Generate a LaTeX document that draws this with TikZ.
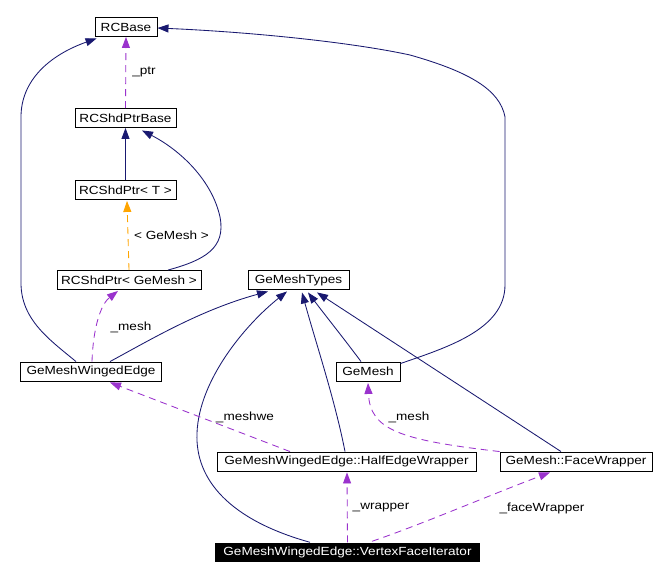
\documentclass[tikz,border=0pt]{standalone}
\usepackage{fontspec}
\setmainfont{Liberation Sans}[FakeStretch=1.15]
\usetikzlibrary{arrows.meta,calc}
\definecolor{navy}{RGB}{25,25,112}
\definecolor{purp}{RGB}{154,50,205}
\definecolor{orng}{RGB}{255,165,0}
\begin{document}
\begin{tikzpicture}[x=1pt,y=-1pt,font=\fontsize{11.8}{14}\selectfont,
  cls/.style={draw=black,line width=0.9pt,fill=white,minimum height=19pt,inner sep=0pt},
  cur/.style={fill=black,text=white,minimum height=19pt,inner sep=0pt},
  tip/.style={-{Triangle[length=11pt,width=8pt]}},
  inh/.style={tip,draw=navy,line width=0.85pt},
  usage/.style={tip,draw=purp,line width=0.85pt,dash pattern=on 7pt off 5pt},
  tmpl/.style={tip,draw=orng,line width=0.85pt,dash pattern=on 7pt off 5pt},
  lbl/.style={inner sep=0pt}]
\useasboundingbox[fill=white] (0,0) rectangle (657,580);
% nodes
\node[cls,minimum width=62pt]  (rcbase)  at (126,27)     {RCBase};
\node[cls,minimum width=101pt] (ptrbase) at (125.5,118)  {RCShdPtrBase};
\node[cls,minimum width=101pt] (ptrT)    at (125.5,190)  {RCShdPtr< T >};
\node[cls,minimum width=144pt] (ptrG)    at (129,280)    {RCShdPtr< GeMesh >};
\node[cls,minimum width=101pt] (types)   at (298.5,280)  {GeMeshTypes};
\node[cls,minimum width=141pt] (gmwe)    at (91,371.5)   {GeMeshWingedEdge};
\node[cls,minimum width=64pt]  (gemesh)  at (368,371.5)  {GeMesh};
\node[cls,minimum width=259pt] (hew)     at (346.5,461.5){GeMeshWingedEdge::HalfEdgeWrapper};
\node[cls,minimum width=152pt] (fw)      at (576,461.5)  {GeMesh::FaceWrapper};
\node[cur,minimum width=265pt] (vfi)     at (347.5,552)  {GeMeshWingedEdge::VertexFaceIterator};
% edges
\draw[usage] (ptrbase.north) -- (rcbase.south);
\node[lbl] (lptr) at (144,72) {\_ptr};
\draw[inh] (ptrT.north) -- (ptrbase.south);
\draw[tmpl] (ptrG.north) -- ($(ptrT.south)+(1.5,1)$);
\node[lbl] (ltmpl) at (171.5,235) {< GeMesh >};
\draw[inh] ($(ptrG.north)+(39,0)$) .. controls (205,260) and (226,248) .. (220,217)
  .. controls (212,180) and (180,150) .. ($(ptrbase.south)+(16.5,2.5)$);
\draw[inh] ($(gmwe.north)+(-15,0)$) .. controls (50,340) and (21,320) .. (21,283)
  -- (21,117) .. controls (21,80) and (50,55) .. ($(rcbase.south west)+(2,1.5)$);
\draw[usage] ($(gmwe.north)+(1,0)$) .. controls (93,330) and (100,305) .. ($(ptrG.south)+(-11,1)$);
\node[lbl] (lmesh1) at (131,327) {\_mesh};
\draw[inh] ($(gmwe.north)+(19,0)$) .. controls (150,340) and (200,310) .. ($(types.south)+(-30.5,1.5)$);
\draw[inh] ($(vfi.north)+(-37.5,0)$) .. controls (230,520) and (195,480) .. (197,433)
  .. controls (199,380) and (245,325) .. ($(types.south)+(-11.5,1.5)$);
\draw[inh] ($(hew.north)+(-1.5,0)$) .. controls (335,400) and (315,340) .. ($(types.south)+(3.5,2.5)$);
\draw[inh] ($(gemesh.north)+(-7,0)$) .. controls (345,340) and (325,315) .. ($(types.south)+(9.5,2.5)$);
\draw[inh] ($(fw.north)+(-15,0)$) -- ($(types.south)+(18.5,2.5)$);
\draw[inh] ($(gemesh.north east)+(0,2)$) .. controls (445,348) and (505,330) .. (505,285)
  -- (505,117) .. controls (500,90) and (470,72) .. (410,55)
  .. controls (350,42) and (250,32) .. ($(rcbase.east)+(0,1)$);
\draw[usage] ($(hew.north)+(-56.5,0)$) -- ($(gmwe.south)+(19,1)$);
\node[lbl] (lmeshwe) at (245,417) {\_meshwe};
\draw[usage] (fw.north west) .. controls (400,440) and (370,430) .. ($(gemesh.south)+(0,1.5)$);
\node[lbl] (lmesh2) at (409,417) {\_mesh};
\draw[usage] (vfi.north) -- ($(hew.south)+(0.5,1)$);
\node[lbl] (lwrap) at (381,508) {\_wrapper};
\draw[usage] ($(vfi.north)+(24.5,-1)$) .. controls (420,525) and (490,495) .. ($(fw.south)+(-26,1)$);
\node[lbl] (lfw) at (542,508) {\_faceWrapper};
\end{tikzpicture}
\end{document}
